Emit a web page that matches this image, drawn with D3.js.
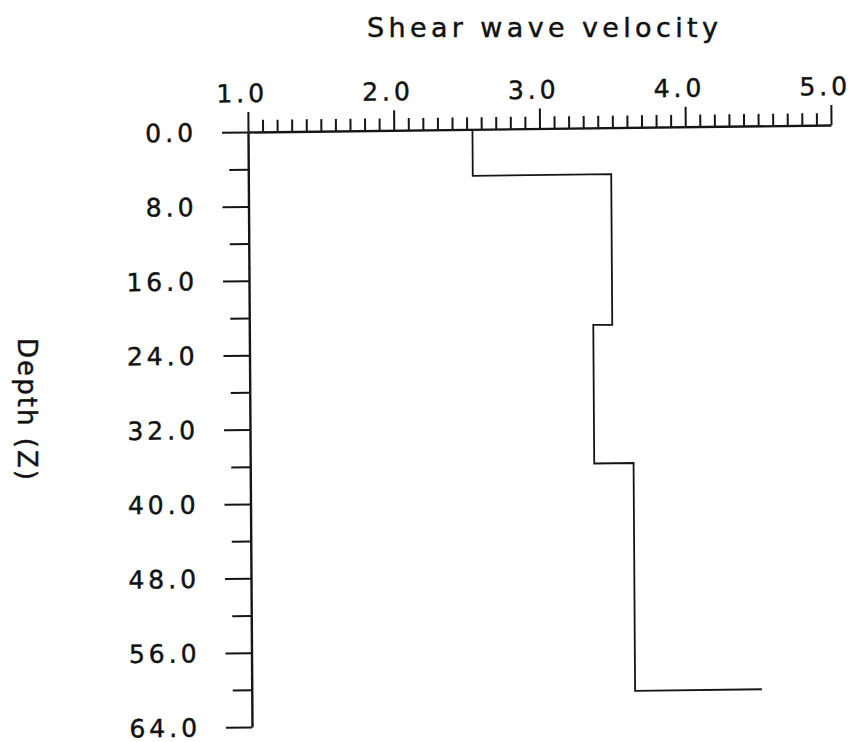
<!DOCTYPE html>
<html>
<head>
<meta charset="utf-8">
<script src="https://cdn.jsdelivr.net/npm/d3@7"></script>
<style>
  html, body { margin: 0; padding: 0; background: #fff; }
  svg { display: block; }
  text { font-family: "DejaVu Sans", "Liberation Sans", sans-serif; fill: #111; stroke: #111; stroke-width: 0.45px; }
</style>
</head>
<body>
<svg id="chart" width="853" height="742"></svg>
<script>
// ---- data ----
const velocityTicks = [1, 2, 3, 4, 5];
const velocityMinorTicks = d3.range(11, 50).filter(i => i % 10 !== 0).map(i => i / 10);
const depthTicks = [0, 8, 16, 24, 32, 40, 48, 56, 64];
const depthMinorTicks = [4, 12, 20, 28, 36, 44, 52, 60];
// step profile: velocity of each layer and the depth of its top
const layerTopDepths = [0, 5.0, 21.2, 36.1, 60.6];
const layerVelocities = [2.54, 3.49, 3.36, 3.63, 4.5];
const titleText = "Shear wave velocity";
const yTitleText = "Depth (Z)";

// ---- layout ----
const svg = d3.select("#chart");
// the scanned original is slightly skewed; reproduce that with one affine transform
const root = svg.append("g").attr("transform", "matrix(1,-0.012,0.0067,1,-0.884,2.976)");
const x = d3.scaleLinear().domain([1, 5]).range([248, 831]);
const y = d3.scaleLinear().domain([0, 64]).range([132, 727]);
const ink = "#151515";
const fmt = d3.format(".1f");

// minor x ticks
root.append("g").attr("transform", `translate(0,${y(0)})`)
  .call(d3.axisTop(x).tickValues(velocityMinorTicks).tickSize(12).tickSizeOuter(0).tickFormat(""))
  .call(g => g.select(".domain").remove());

// major x axis
const xa = root.append("g").attr("class", "xaxis").attr("transform", `translate(0,${y(0)})`)
  .call(d3.axisTop(x).tickValues(velocityTicks).tickSize(20).tickSizeOuter(0).tickPadding(10).tickFormat(fmt));
xa.selectAll("text").attr("dx", -6).attr("font-size", 25).attr("letter-spacing", 4);

// minor y ticks
root.append("g").attr("transform", `translate(${x(1)},0)`)
  .call(d3.axisLeft(y).tickValues(depthMinorTicks).tickSize(19).tickSizeOuter(0).tickFormat(""))
  .call(g => g.select(".domain").remove());

// major y axis
const ya = root.append("g").attr("class", "yaxis").attr("transform", `translate(${x(1)},0)`)
  .call(d3.axisLeft(y).tickValues(depthTicks).tickSize(26).tickSizeOuter(0).tickPadding(25).tickFormat(fmt));
ya.selectAll("text").attr("font-size", 25).attr("letter-spacing", 4).attr("dy", "0.34em");

root.selectAll(".tick line").attr("stroke", ink).attr("stroke-width", 2);
root.selectAll(".domain").attr("stroke", ink).attr("stroke-width", 2.4);
root.selectAll(".tick text").attr("fill", ink);

// step profile
const pts = layerVelocities.map((v, i) => [v, layerTopDepths[i]]);
root.append("path")
  .datum(pts)
  .attr("fill", "none")
  .attr("stroke", ink)
  .attr("stroke-width", 1.8)
  .attr("d", d3.line().x(d => x(d[0])).y(d => y(d[1])).curve(d3.curveStepBefore));

// titles
svg.append("text")
  .attr("x", 367).attr("y", 37)
  .attr("font-size", 27)
  .attr("textLength", 351).attr("lengthAdjust", "spacing")
  .text(titleText);

svg.append("text")
  .attr("transform", "translate(18,338) rotate(90)")
  .attr("font-size", 26)
  .attr("textLength", 142).attr("lengthAdjust", "spacing")
  .text(yTitleText);
</script>
</body>
</html>
